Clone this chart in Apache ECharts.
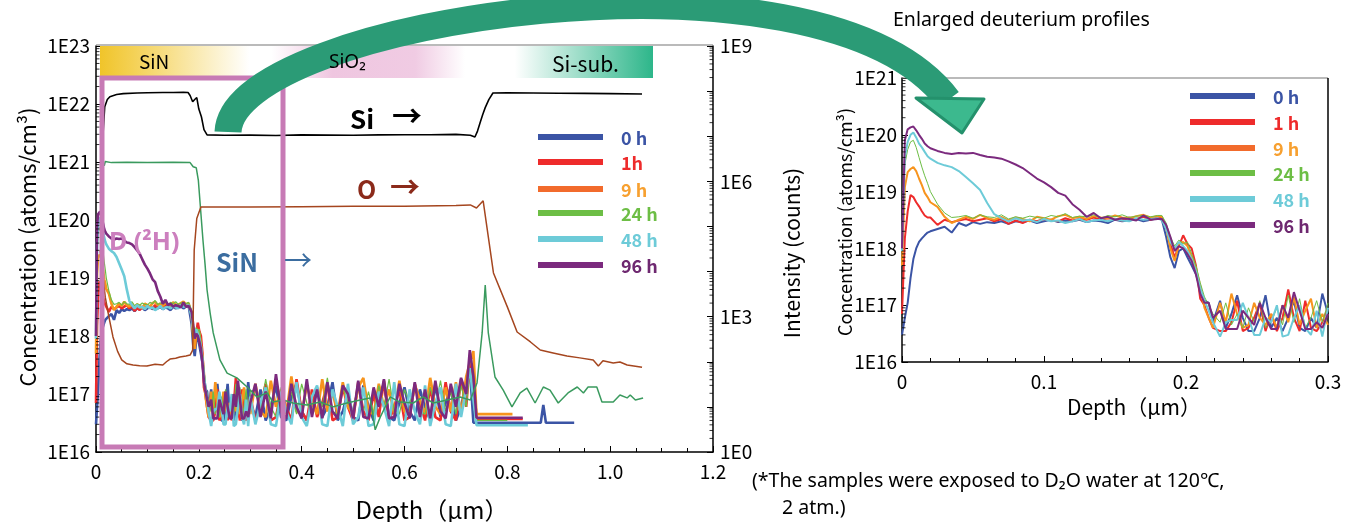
<!DOCTYPE html>
<html><head><meta charset="utf-8">
<script src="https://cdn.jsdelivr.net/npm/echarts@6/dist/echarts.min.js"></script>
<style>html,body{margin:0;padding:0;background:#fff}#c{width:1359px;height:522px}</style>
</head><body><div id="c"></div>
<script>
// ---------- deuterium profiles (0 - 0.3 um), shared by both panels ----------
const D_DEPTH = [0,0.002,0.004,0.006,0.008,0.010,0.012,0.014,0.016,0.018,0.020,
 0.025,0.030,0.035,0.040,0.045,0.050,0.055,0.060,0.065,0.070,
 0.075,0.080,0.085,0.090,0.095,0.100,0.105,0.110,0.115,0.120,
 0.125,0.130,0.135,0.140,0.145,0.150,0.155,0.160,0.165,0.170,0.175,0.180,
 0.183,0.186,0.189,0.192,0.195,0.198,0.201,0.204,0.207,0.210,0.213,0.216,0.219,
 0.224,0.228,0.232,0.236,0.240,0.244,0.248,0.252,0.256,0.260,0.264,0.268,0.272,0.276,0.280,0.284,0.288,0.292,0.296,0.300];
const D_0H = [3e16,6e16,1.1e17,3e17,6.5e17,1.0e18,1.3e18,1.5e18,1.7e18,1.9e18,2.0e18,
 2.2e18,2.4e18,1.9e18,2.8e18,2.5e18,2.9e18,2.7e18,2.9e18,2.8e18,3.0e18,
 2.7e18,3.0e18,2.9e18,3.1e18,2.8e18,3.0e18,3.2e18,2.9e18,3.1e18,3.0e18,
 3.2e18,2.9e18,3.1e18,3.0e18,2.8e18,3.2e18,3.0e18,3.1e18,3.3e18,3.0e18,3.2e18,3.4e18,
 3.2e18,1.6e18,7e17,4.5e17,9e17,1.0e18,7e17,5e17,3.5e17,2e17,1.2e17,1.1e17,5e16,
 1.2e17,4e16,7e16,1.5e17,6e16,3.5e16,3.5e16,6e16,1.5e17,4e16,6e16,3.5e16,6e16,1.2e17,4e16,3.5e16,6e16,4e16,1.6e17,7e16];
const D_1H = [7e16,1.5e18,4.5e18,8.7e18,8e18,6.5e18,5.5e18,4.5e18,3.8e18,3.5e18,3.5e18,
 2.6e18,3.2e18,2.9e18,3.1e18,3.3e18,3.0e18,3.2e18,3.4e18,3.0e18,3.3e18,
 2.7e18,3.1e18,2.8e18,3.2e18,3.0e18,3.3e18,3.1e18,3.0e18,3.4e18,3.1e18,
 3.3e18,3.2e18,3.5e18,3.2e18,3.4e18,3.3e18,3.1e18,3.5e18,3.3e18,3.6e18,3.2e18,3.5e18,
 3.4e18,2.4e18,1.2e18,7e17,1.1e18,1.7e18,1.2e18,1.0e18,5e17,1.3e17,1.0e17,6e16,4e16,
 3.5e16,3.5e16,5e16,1.2e17,3.5e16,4e16,6e16,1.1e17,3.5e16,7e16,3.5e16,6e16,1.9e17,6e16,3.5e16,1.2e17,4e16,3.5e16,5e16,9e16];
const D_9H = [5e17,1.2e19,2.2e19,2.5e19,2.7e19,2.3e19,1.7e19,1.3e19,9.5e18,8e18,6.5e18,
 5.4e18,3.6e18,2.8e18,3.2e18,3.6e18,3.3e18,3.9e18,3.4e18,3.2e18,3.6e18,
 3.1e18,3.5e18,3.3e18,3.0e18,3.6e18,3.4e18,3.2e18,3.7e18,3.9e18,3.4e18,
 3.6e18,3.3e18,3.7e18,3.5e18,3.4e18,3.8e18,3.5e18,3.4e18,3.7e18,3.9e18,3.5e18,3.7e18,
 3.6e18,2.3e18,1.0e18,6e17,1.2e18,1.3e18,1.1e18,7e17,4.5e17,2.2e17,9e16,6e16,4e16,
 1.1e17,5e16,1.6e17,7e16,4e16,4.5e16,1.1e17,6e16,4.5e16,7e16,4e16,1.0e17,5e16,1.4e17,4.5e16,8e16,1.3e17,4e16,7e16,4.5e16];
const D_24H = [1.5e18,3e19,5.5e19,7.5e19,8e19,6e19,4e19,2.7e19,1.9e19,1.4e19,1.0e19,
 6e18,4.2e18,3.5e18,3.6e18,3.8e18,3.4e18,3.9e18,3.6e18,3.5e18,3.9e18,
 3.3e18,3.6e18,3.4e18,3.7e18,3.5e18,3.4e18,3.8e18,3.6e18,4.1e18,3.5e18,
 3.7e18,3.6e18,3.9e18,3.4e18,3.8e18,3.6e18,3.9e18,3.5e18,3.7e18,3.8e18,3.6e18,3.8e18,
 3.8e18,2.8e18,1.6e18,1.1e18,1.4e18,1.2e18,1.3e18,8e17,5e17,2.5e17,1.4e17,1e17,7e16,
 5e16,1.1e17,4.5e16,7e16,4e16,9e16,5e16,1.2e17,4e16,5e16,9e16,4.5e16,1.5e17,5e16,1.3e17,4e16,6e16,1.2e17,5e16,1.1e17];
const D_48H = [9e17,4e19,7.5e19,1.0e20,1.1e20,9e19,7e19,6e19,5e19,4.2e19,3.8e19,
 3.2e19,2.9e19,2.7e19,2.3e19,1.8e19,1.4e19,1.07e19,6.3e18,4.0e18,3.4e18,
 3.0e18,3.4e18,3.1e18,3.2e18,2.9e18,3.3e18,3.0e18,3.1e18,2.8e18,3.0e18,
 3.3e18,2.9e18,3.1e18,3.2e18,3.0e18,3.3e18,3.1e18,3.0e18,3.4e18,3.2e18,3.3e18,3.4e18,
 3.2e18,2.2e18,1.3e18,1.0e18,1.3e18,1.1e18,9e17,6.5e17,4e17,2e17,1.2e17,8e16,5e16,
 2.8e16,5e16,5.5e16,5.5e16,1.1e17,6e16,3e16,3e16,6e16,5e16,1.0e17,2.8e16,3e16,6e16,1.0e17,4e16,3e16,8e16,2.8e16,9e16];
const D_96H = [1.0e18,8e19,1.25e20,1.35e20,1.4e20,1.2e20,1.0e20,8.5e19,7e19,6.3e19,5.8e19,
 5.2e19,4.8e19,4.6e19,4.8e19,4.7e19,4.8e19,4.4e19,4.1e19,4.0e19,3.8e19,
 3.4e19,3.0e19,2.6e19,2.1e19,1.7e19,1.45e19,1.2e19,9.5e18,8.5e18,6e18,
 4.8e18,3.6e18,4.2e18,3.4e18,3.6e18,3.2e18,3.4e18,3.3e18,3.1e18,3.8e18,3.2e18,3.3e18,
 3.3e18,2.6e18,1.6e18,9e17,1.1e18,1.0e18,8e17,6e17,3.5e17,1.6e17,1.1e17,1.1e17,6e16,
 8e16,3.8e16,3.8e16,3.8e16,8e16,6e16,4.5e16,1.1e17,6e16,3.8e16,3.8e16,1e17,6e16,1.7e17,8e16,3.8e16,3.8e16,5e16,4e16,7e16];

// ---------- deuterium, deeper part (left panel only) ----------
const EXT_DEPTH = [0.31,0.32,0.33,0.34,0.35,0.36,0.37,0.38,0.39,0.40,
 0.41,0.42,0.43,0.44,0.45,0.46,0.47,0.48,0.49,0.50,
 0.51,0.52,0.53,0.54,0.55,0.56,0.57,0.58,0.59,0.60,
 0.61,0.62,0.63,0.64,0.65,0.66,0.67,0.68,0.69,0.70,
 0.71,0.72,0.727,0.734,0.74];
const EXT_0H = [4e16,1.2e17,3.5e16,6e16,1.4e17,4e16,3.5e16,9e16,1.5e17,5e16,
 3.5e16,7e16,1.3e17,4e16,6e16,1.6e17,3.5e16,5e16,1.1e17,4e16,
 3.5e16,1.4e17,6e16,3.5e16,9e16,1.5e17,4e16,3.5e16,7e16,1.3e17,
 5e16,3.5e16,1.2e17,6e16,3.5e16,1.5e17,4e16,7e16,1.3e17,3.5e16,
 6e16,1.6e17,3e17,3.2e16,3.2e16];
const EXT_1H = [3.5e16,6e16,1.5e17,3.5e16,4e16,1.1e17,6e16,3.5e16,1.8e17,5e16,
 3.5e16,1.2e17,4e16,7e16,1.5e17,3.5e16,4e16,1.3e17,6e16,3.5e16,
 1.6e17,5e16,3.5e16,1e17,4e16,1.7e17,3.5e16,6e16,1.2e17,3.5e16,
 4e16,1.5e17,7e16,3.5e16,1.3e17,4e16,3.5e16,1.6e17,5e16,3.5e16,
 1.8e17,6e16,3.5e17,2e17,3.7e16];
const EXT_9H = [1.5e17,5e16,4e16,1.7e17,6e16,1.2e17,4.5e16,2e17,5e16,4.5e16,
 1.4e17,7e16,4.5e16,1.8e17,5e16,1.1e17,4.5e16,1.6e17,6e16,4.5e16,
 1.3e17,1.9e17,5e16,4.5e16,1.5e17,6e16,1.2e17,4.5e16,1.7e17,5e16,
 4.5e16,1.4e17,8e16,4.5e16,1.9e17,6e16,4.5e16,1.3e17,5e16,1.6e17,
 4.5e16,2e17,3.5e17,5.5e17,4.5e16];
const EXT_24H = [1.2e17,5e16,1.8e17,6e16,4e16,1.3e17,5e16,1.1e17,4.5e16,1.5e17,
 7e16,4.5e16,1.2e17,6e16,1.9e17,5e16,4.5e16,1.3e17,7e16,5e16,
 1.6e17,5e16,1.1e17,4.5e16,1.4e17,6e16,1.8e17,5e16,4.5e16,1.2e17,
 7e16,1.5e17,5e16,4.5e16,1.3e17,6e16,1.7e17,5e16,1.1e17,4.5e16,
 1.4e17,6e16,2.5e17,1.5e17,3.5e16];
const EXT_48H = [3e16,7e16,1.3e17,3e16,2.8e16,1.1e17,5e16,3e16,1.6e17,4e16,
 2.8e16,9e16,1.4e17,3e16,2.8e16,1.2e17,6e16,2.8e16,1.5e17,3e16,
 4e16,1.3e17,2.8e16,3e16,1.1e17,6e16,2.8e16,1.6e17,3e16,2.8e16,
 1.2e17,5e16,3e16,1.4e17,2.8e16,7e16,1.3e17,3e16,2.8e16,1.5e17,
 4e16,1.2e17,2.8e17,8e16,2.9e16];
const EXT_96H = [1.5e17,4e16,1.1e17,3.8e16,2.2e17,5e16,3.8e16,1.5e17,6e16,3.8e16,
 1.8e17,4e16,1.2e17,3.8e16,1.6e17,5e16,3.8e16,1.4e17,1.0e17,3.8e16,
 1.7e17,4e16,3.8e16,1.3e17,6e16,1.8e17,3.8e16,4e16,1.5e17,7e16,
 3.8e16,1.6e17,4e16,1.2e17,3.8e16,1.7e17,5e16,3.8e16,1.5e17,6e16,
 1.9e17,1e17,5.7e17,2e17,3.9e16];
const TAIL_0H = [[0.865,3.2e16],[0.870,6.5e16],[0.875,3.2e16],[0.93,3.2e16]];
const TAIL_1H = [[0.83,3.7e16]];
const TAIL_9H = [[0.81,4.5e16]];
const TAIL_24H = [[0.80,3.5e16]];
const TAIL_48H = [[0.84,2.9e16]];
const TAIL_96H = [[0.83,3.9e16]];

// ---------- matrix signals (counts, right axis) ----------
const SI_DEPTH = [0.014,0.017,0.022,0.027,0.04,0.053,0.08,0.1,0.13,0.15,0.17,0.179,0.183,0.188,0.192,0.196,0.2,0.205,0.21,0.216,0.25,0.3,0.35,0.4,0.45,0.5,0.55,0.6,0.65,0.7,0.728,0.737,0.742,0.747,0.752,0.757,0.764,0.772,0.8,0.85,0.9,0.95,1.0,1.062];
const SI_COUNTS = [1.3e7,4.5e7,6.5e7,7.5e7,8.4e7,8.8e7,9.1e7,9.2e7,9.3e7,9.3e7,9.4e7,9.3e7,8.0e7,5.8e7,6.5e7,7.2e7,4e7,2.7e7,1.4e7,1.07e7,1.05e7,1.06e7,1.04e7,1.07e7,1.06e7,1.05e7,1.07e7,1.08e7,1.08e7,1.1e7,1.05e7,9.6e6,1.3e7,2e7,3e7,4.3e7,6.5e7,9.1e7,9.2e7,9.1e7,9.0e7,8.9e7,8.8e7,8.6e7];
const O_DEPTH = [0.008,0.012,0.018,0.025,0.033,0.042,0.05,0.06,0.072,0.085,0.099,0.115,0.13,0.137,0.144,0.155,0.163,0.175,0.183,0.188,0.191,0.196,0.204,0.25,0.3,0.4,0.5,0.6,0.7,0.728,0.74,0.753,0.763,0.773,0.8,0.819,0.845,0.864,0.889,0.916,0.941,0.967,0.977,0.986,1.006,1.019,1.033,1.062];
const O_COUNTS = [3e4,1.1e4,2.7e3,1.0e3,355,170,110,90,85,82,81,88,85,100,115,120,128,135,141,182,3.0e4,1.5e5,2.7e5,2.7e5,2.7e5,2.75e5,2.8e5,2.8e5,2.9e5,3.0e5,2.57e5,3.7e5,5.9e4,9.3e3,1.65e3,457,275,182,157,134,122,110,81,105,94,99,85,76];
const SIN_DEPTH = [0.016,0.018,0.03,0.06,0.1,0.15,0.183,0.189,0.195,0.199,0.208,0.212,0.216,0.222,0.228,0.241,0.255,0.274,0.294,0.313,0.333,0.344,0.364,0.383,0.41,0.436,0.461,0.488,0.514,0.533,0.543,0.553,0.572,0.591,0.617,0.636,0.656,0.683,0.708,0.728,0.741,0.751,0.757,0.763,0.776,0.792,0.809,0.825,0.838,0.854,0.87,0.883,0.899,0.918,0.936,0.948,0.957,0.974,0.984,1.006,1.019,1.033,1.039,1.049,1.064];
const SIN_COUNTS = [2.2e6,2.75e6,2.6e6,2.65e6,2.6e6,2.65e6,2.6e6,2.1e6,2.0e6,1.07e6,5e4,1.5e4,3.9e3,1.2e3,436,110,56,44,27.6,16.6,20.4,12.8,14.2,12.2,11,12.8,10,12.2,14.2,15.8,3.1,6,16.6,12.8,12.2,16.6,12.2,14.2,16.6,14.2,34,436,5.0e3,436,46,23.6,10,20.4,26,12.2,27.6,23.6,12.2,20.4,27.6,20.4,27.6,27.6,12.8,12.8,18.4,15.8,18.4,14.2,15.8];

// ---------- labels ----------
const LEFT_LEGEND = ['0 h','1h','9 h','24 h','48 h','96 h'];
const RIGHT_LEGEND = ['0 h','1 h','9 h','24 h','48 h','96 h'];
const LINE_COLORS = ['#3b54a5','#ee2b2b','#f7941d','#6dbe45','#6dcbd8','#7b2a7e'];
const LEGEND_LINE_COLORS = ['#3b54a5','#ee2b2b','#f26b2c','#6dbe45','#6dcbd8','#7b2a7e'];
const LEGEND_TEXT_COLORS = ['#3b54a5','#ee2b2b','#f7a030','#6dbe45','#6dcbd8','#6e2870'];

const FONT = '"Noto Sans CJK JP","Noto Sans",sans-serif';
const LATIN = '"Noto Sans",sans-serif';
const pairs = (xs, ys) => xs.map((x, i) => [x, ys[i]]);
const D_SETS = [D_0H,D_1H,D_9H,D_24H,D_48H,D_96H];
const EXT_SETS = [EXT_0H,EXT_1H,EXT_9H,EXT_24H,EXT_48H,EXT_96H];
const TAIL_SETS = [TAIL_0H,TAIL_1H,TAIL_9H,TAIL_24H,TAIL_48H,TAIL_96H];

const series = [];
D_SETS.forEach((d, i) => {
  series.push({name: 'L' + LEFT_LEGEND[i], type: 'line', xAxisIndex: 0, yAxisIndex: 0, showSymbol: false, symbol: 'none',
    lineStyle: {color: LINE_COLORS[i], width: i === 3 ? 1.2 : 2.6}, z: 3 + i,
    data: pairs(D_DEPTH, d).concat(pairs(EXT_DEPTH, EXT_SETS[i])).concat(TAIL_SETS[i])});
});
series.push({name: 'SiN', type: 'line', xAxisIndex: 0, yAxisIndex: 1, showSymbol: false, symbol: 'none',
  lineStyle: {color: '#3a9a5e', width: 1.5}, z: 10, data: pairs(SIN_DEPTH, SIN_COUNTS)});
series.push({name: 'O', type: 'line', xAxisIndex: 0, yAxisIndex: 1, showSymbol: false, symbol: 'none',
  lineStyle: {color: '#a5461f', width: 1.5}, z: 10, data: pairs(O_DEPTH, O_COUNTS)});
series.push({name: 'Si', type: 'line', xAxisIndex: 0, yAxisIndex: 1, showSymbol: false, symbol: 'none',
  lineStyle: {color: '#000', width: 1.6}, z: 10, data: pairs(SI_DEPTH, SI_COUNTS)});
D_SETS.forEach((d, i) => {
  series.push({name: 'R' + RIGHT_LEGEND[i], type: 'line', xAxisIndex: 1, yAxisIndex: 2, showSymbol: false, symbol: 'none',
    lineStyle: {color: LINE_COLORS[i], width: i === 3 ? 1 : 2}, z: 3 + i, data: pairs(D_DEPTH, d)});
});

const expLabel = v => '1E' + Math.round(Math.log10(v));
const axisBase = {
  axisLine: {show: true, lineStyle: {color: '#000', width: 1.5}},
  axisTick: {show: true, inside: true, length: 6, lineStyle: {color: '#000', width: 1}},
  splitLine: {show: false},
  axisLabel: {color: '#000', fontSize: 19, fontFamily: FONT}
};

function txt(x, y, text, size, color, extra) {
  const st = Object.assign({text: text, fontSize: size, fontFamily: FONT, fill: color, fontWeight: 'normal',
    align: 'left', textAlign: 'left', verticalAlign: 'middle', textVerticalAlign: 'middle'}, extra || {});
  return {type: 'text', x: x, y: y, z: 120, style: st};
}
const graphics = [];
// layer band
graphics.push({type: 'rect', z: 1, shape: {x: 100, y: 46, width: 553, height: 32},
  style: {fill: new echarts.graphic.LinearGradient(0, 0, 1, 0, [
    {offset: 0, color: '#f0c42a'}, {offset: 0.06, color: '#f4d155'}, {offset: 0.27, color: '#ffffff'},
    {offset: 0.31, color: '#ffffff'}, {offset: 0.42, color: '#efc6e0'}, {offset: 0.57, color: '#f0cbe3'},
    {offset: 0.66, color: '#ffffff'}, {offset: 0.75, color: '#ffffff'}, {offset: 1, color: '#2db68a'}])}});
graphics.push(txt(139, 62, 'SiN', 19, '#000'));
graphics.push(txt(329, 63, 'SiO₂', 19, '#000', {fontFamily: LATIN}));
graphics.push(txt(552, 64, 'Si-sub.', 21, '#000'));
// frame lines
graphics.push({type: 'line', z: 5, shape: {x1: 96, y1: 45, x2: 713, y2: 45}, style: {stroke: '#777', lineWidth: 1.2}});
graphics.push({type: 'line', z: 5, shape: {x1: 902, y1: 78, x2: 1328, y2: 78}, style: {stroke: '#777', lineWidth: 1.2}});
graphics.push({type: 'line', z: 5, shape: {x1: 1328, y1: 78, x2: 1328, y2: 362}, style: {stroke: '#000', lineWidth: 1.5}});
// pink D box
graphics.push({type: 'rect', z: 60, shape: {x: 102, y: 78, width: 181, height: 369}, style: {fill: 'none', stroke: '#c77ab5', lineWidth: 5}});
// annotations
graphics.push(txt(350, 119, 'Si', 26, '#000', {fontWeight: 'bold'}));
graphics.push(txt(392, 116, '→', 30, '#000', {fontWeight: 'bold'}));
graphics.push(txt(357, 189, 'O', 25, '#8b2a1a', {fontWeight: 'bold'}));
graphics.push(txt(390, 187, '→', 30, '#8b2a1a', {fontWeight: 'bold'}));
graphics.push(txt(216, 262, 'SiN', 25, '#3b6da0', {fontWeight: 'bold'}));
graphics.push(txt(284, 260, '→', 28, '#3b6da0'));
graphics.push(txt(109, 243, 'D (²H)', 25, '#cc7fbe', {fontWeight: 'bold', fontFamily: LATIN}));
// legends
[0,1,2,3,4,5].forEach(i => {
  const yl = [137,162,189,213,239,265][i];
  graphics.push({type: 'rect', z: 110, shape: {x: 538, y: yl - 3, width: 65, height: 6}, style: {fill: LEGEND_LINE_COLORS[i]}});
  graphics.push(txt(621, yl + 1, LEFT_LEGEND[i], 18, LEGEND_TEXT_COLORS[i], {fontWeight: 'bold'}));
  const yr = [96,122,148,173,199,225][i];
  graphics.push({type: 'rect', z: 110, shape: {x: 1190, y: yr - 3, width: 65, height: 6}, style: {fill: LEGEND_LINE_COLORS[i]}});
  graphics.push(txt(1273, yr + 1, RIGHT_LEGEND[i], 18, LEGEND_TEXT_COLORS[i], {fontWeight: 'bold'}));
});
// axis titles
graphics.push(Object.assign(txt(28, 247, 'Concentration (atoms/cm³)', 22, '#000', {align: 'center', textAlign: 'center'}), {rotation: Math.PI / 2}));
graphics.push(Object.assign(txt(792, 253, 'Intensity (counts)', 21, '#000', {align: 'center', textAlign: 'center'}), {rotation: Math.PI / 2}));
graphics.push(Object.assign(txt(845, 222, 'Concentration (atoms/cm³)', 18, '#000', {align: 'center', textAlign: 'center'}), {rotation: Math.PI / 2}));
graphics.push(txt(432, 510, 'Depth（μm）', 24, '#000', {align: 'center', textAlign: 'center'}));
graphics.push(txt(1134, 407, 'Depth（μm）', 21, '#000', {align: 'center', textAlign: 'center'}));
graphics.push(txt(893, 20, 'Enlarged deuterium profiles', 19.5, '#000', {fontFamily: LATIN}));
graphics.push(txt(752, 481, '(*The samples were exposed to D₂O water at 120℃,', 19.5, '#000', {fontFamily: LATIN}));
graphics.push(txt(782, 508, '2 atm.)', 19.5, '#000', {fontFamily: LATIN}));
// big curved arrow
graphics.push({type: 'bezierCurve', z: 90, shape: {x1: 228, y1: 132, cpx1: 232, cpy1: 20, cpx2: 820, cpy2: -70, x2: 948, y2: 100},
  style: {stroke: '#2b9b76', lineWidth: 27, fill: 'none', lineCap: 'butt'}});
graphics.push({type: 'polygon', z: 91, shape: {points: [[916, 98], [984, 99], [962, 133]]},
  style: {fill: '#3cb98e', stroke: '#24916c', lineWidth: 3, lineJoin: 'round'}});

const option = {
  animation: false,
  backgroundColor: '#fff',
  grid: [{left: 96, top: 46, width: 617, height: 406}, {left: 902, top: 78, width: 426, height: 284}],
  xAxis: [
    Object.assign({}, axisBase, {gridIndex: 0, type: 'value', min: 0, max: 1.2, interval: 0.2,
      minorTick: {show: true, splitNumber: 4, length: 4, lineStyle: {color: '#000'}},
      axisLabel: Object.assign({}, axisBase.axisLabel, {margin: 10, formatter: v => v === 0 ? '0' : v.toFixed(1)})}),
    Object.assign({}, axisBase, {gridIndex: 1, type: 'value', min: 0, max: 0.3, interval: 0.1,
      minorTick: {show: true, splitNumber: 5, length: 4, lineStyle: {color: '#000'}},
      axisLabel: Object.assign({}, axisBase.axisLabel, {margin: 10, formatter: v => v === 0 ? '0' : v.toFixed(1)})})
  ],
  yAxis: [
    Object.assign({}, axisBase, {gridIndex: 0, type: 'log', logBase: 10, min: 1e16, max: 1e23, splitNumber: 7, position: 'left',
      axisLabel: Object.assign({}, axisBase.axisLabel, {margin: 6, formatter: expLabel})}),
    Object.assign({}, axisBase, {gridIndex: 0, type: 'log', logBase: 10, min: 1, max: 1e9, splitNumber: 9, position: 'right',
      axisLabel: Object.assign({}, axisBase.axisLabel, {margin: 7, formatter: v => { const e = Math.round(Math.log10(v)); return e % 3 === 0 ? '1E' + e : ''; }})}),
    Object.assign({}, axisBase, {gridIndex: 1, type: 'log', logBase: 10, min: 1e16, max: 1e21, splitNumber: 5, position: 'left',
      axisLabel: Object.assign({}, axisBase.axisLabel, {margin: 5, formatter: expLabel})})
  ],
  series: series,
  graphic: graphics
};
const chart = echarts.init(document.getElementById('c'));
chart.setOption(option);

// log-spaced minor ticks (2..9 in each decade), placed through the axes' own scales
const MINOR_AXES = [
  {axis: 0, grid: 0, xVal: 0, lo: 16, hi: 23, dir: 1},
  {axis: 1, grid: 0, xVal: 1.2, lo: 0, hi: 9, dir: -1},
  {axis: 2, grid: 1, xVal: 0, lo: 16, hi: 21, dir: 1}
];
const minor = [];
MINOR_AXES.forEach(a => {
  const x0 = chart.convertToPixel({xAxisIndex: a.grid}, a.xVal);
  for (let e = a.lo; e < a.hi; e++) {
    for (let m = 2; m <= 9; m++) {
      const y = chart.convertToPixel({yAxisIndex: a.axis}, m * Math.pow(10, e));
      minor.push({type: 'line', z: 50, shape: {x1: x0, y1: y, x2: x0 + a.dir * 3.5, y2: y}, style: {stroke: '#000', lineWidth: 0.8}});
    }
  }
});
chart.setOption({graphic: graphics.concat(minor)});
</script></body></html>
